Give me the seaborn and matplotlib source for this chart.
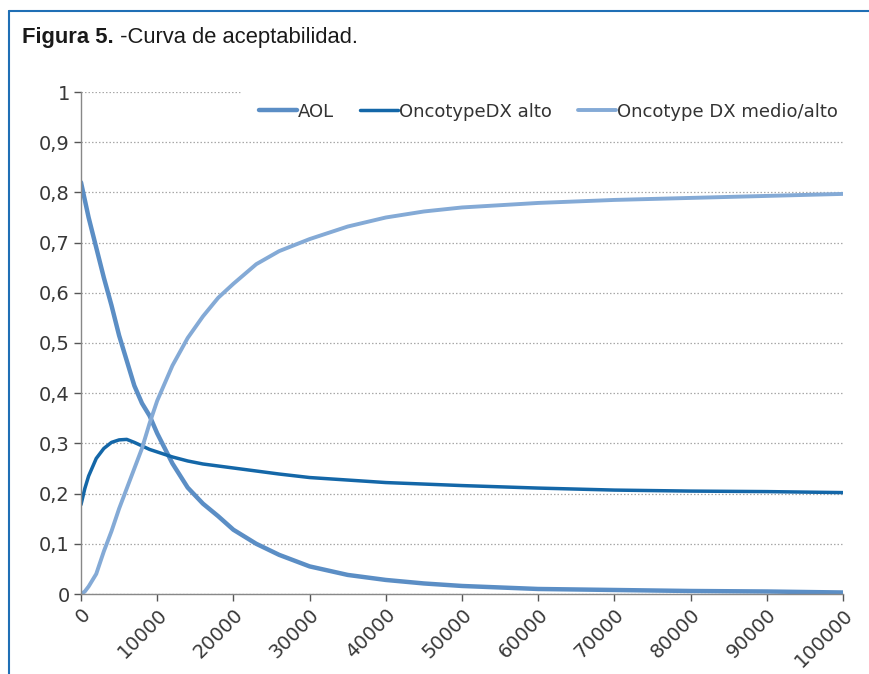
import matplotlib
matplotlib.use("Agg")
import matplotlib.pyplot as plt
from matplotlib.lines import Line2D
import seaborn as sns
import pandas as pd

# ---- data ----
x_vals = [0, 500, 1000, 2000, 3000, 4000, 5000, 6000, 7000, 8000, 9000, 10000,
          12000, 14000, 16000, 18000, 20000, 23000, 26000, 30000, 35000, 40000,
          45000, 50000, 60000, 70000, 80000, 90000, 100000]
aol = [0.82, 0.785, 0.75, 0.69, 0.63, 0.575, 0.515, 0.465, 0.415, 0.38, 0.355, 0.32,
       0.26, 0.212, 0.18, 0.155, 0.128, 0.10, 0.078, 0.055, 0.038, 0.028,
       0.021, 0.016, 0.010, 0.008, 0.006, 0.005, 0.003]
oncotype_alto = [0.178, 0.21, 0.235, 0.27, 0.29, 0.302, 0.307, 0.308, 0.302, 0.295, 0.288, 0.283,
                 0.273, 0.265, 0.259, 0.255, 0.251, 0.245, 0.239, 0.232, 0.227, 0.222,
                 0.219, 0.216, 0.211, 0.207, 0.205, 0.204, 0.202]
oncotype_medio_alto = [0.0, 0.005, 0.015, 0.04, 0.085, 0.125, 0.17, 0.21, 0.25, 0.29, 0.34, 0.385,
                       0.455, 0.51, 0.553, 0.59, 0.618, 0.657, 0.683, 0.707, 0.732, 0.75,
                       0.762, 0.770, 0.779, 0.785, 0.789, 0.793, 0.797]
series_names = ["AOL", "OncotypeDX alto", "Oncotype DX medio/alto"]
x_ticks = [0, 10000, 20000, 30000, 40000, 50000, 60000, 70000, 80000, 90000, 100000]
y_ticks = [0, 0.1, 0.2, 0.3, 0.4, 0.5, 0.6, 0.7, 0.8, 0.9, 1.0]
y_labels = ["0", "0,1", "0,2", "0,3", "0,4", "0,5", "0,6", "0,7", "0,8", "0,9", "1"]
title_bold = "Figura 5."
title_rest = " -Curva de aceptabilidad."

colors = ["#5b8ec5", "#1467a8", "#84aad6"]
widths = [3.2, 2.5, 2.8]

sns.set_theme(style="white")
plt.rcParams['font.family'] = ['DejaVu Sans']

fig = plt.figure(figsize=(8.7, 6.74), dpi=100)
ax = fig.add_axes([81 / 870, 1 - 594 / 674, (843 - 81) / 870, (594 - 92) / 674])

df = pd.DataFrame({"x": x_vals, series_names[0]: aol,
                   series_names[1]: oncotype_alto, series_names[2]: oncotype_medio_alto})
for name, c, lw in zip(series_names, colors, widths):
    sns.lineplot(data=df, x="x", y=name, ax=ax, color=c, linewidth=lw,
                 label=name, solid_capstyle="round")

ax.set_xlim(0, 100000)
ax.set_ylim(0, 1)
ax.set_xticks(x_ticks)
ax.set_xticklabels([str(t) for t in x_ticks], rotation=45, ha="right",
                   rotation_mode="anchor", fontsize=14, color="#383838")
ax.set_yticks(y_ticks)
ax.set_yticklabels(y_labels, fontsize=14, color="#383838")
ax.set_xlabel("")
ax.set_ylabel("")
ax.grid(axis="y", linestyle=(0, (1.2, 1.6)), color="#a8a8a8", linewidth=0.9)
ax.set_axisbelow(True)
for s in ["top", "right"]:
    ax.spines[s].set_visible(False)
for s in ["left", "bottom"]:
    ax.spines[s].set_color("#888888")
    ax.spines[s].set_linewidth(1.0)
ax.tick_params(axis="both", which="both", direction="out", length=5, width=1,
               color="#555555", left=True, bottom=True, pad=3)

leg = ax.legend(loc="upper right", bbox_to_anchor=(1.017, 1.015), ncol=3, frameon=True,
                fontsize=13, handlelength=2.1, handletextpad=0.05, columnspacing=1.45,
                borderaxespad=0.0, borderpad=1.0)
leg.get_frame().set_facecolor("white")
leg.get_frame().set_edgecolor("white")
leg.get_frame().set_alpha(1.0)
leg.get_frame().set_boxstyle("square", pad=0.0)
for t in leg.get_texts():
    t.set_color("#333333")

# title
fig.text(22 / 870, 1 - 38 / 674, title_bold, fontsize=15.8, fontweight="bold",
         family="Liberation Sans", va="center", ha="left", color="#1a1a1a")
fig.canvas.draw()
r = fig.canvas.get_renderer()
bb = fig.texts[0].get_window_extent(renderer=r)
fig.text(bb.x1 / 870, 1 - 38 / 674, title_rest, fontsize=15.8,
         family="Liberation Sans", va="center", ha="left", color="#1a1a1a")

# frame border
bc = "#1f6fb5"
fig.add_artist(Line2D([9.5 / 870, 9.5 / 870], [0, 1 - 11 / 674], transform=fig.transFigure,
                      color=bc, linewidth=1.5))
fig.add_artist(Line2D([9.5 / 870, 1], [1 - 11 / 674, 1 - 11 / 674], transform=fig.transFigure,
                      color=bc, linewidth=1.5))

fig.savefig("out.png", dpi=100)
